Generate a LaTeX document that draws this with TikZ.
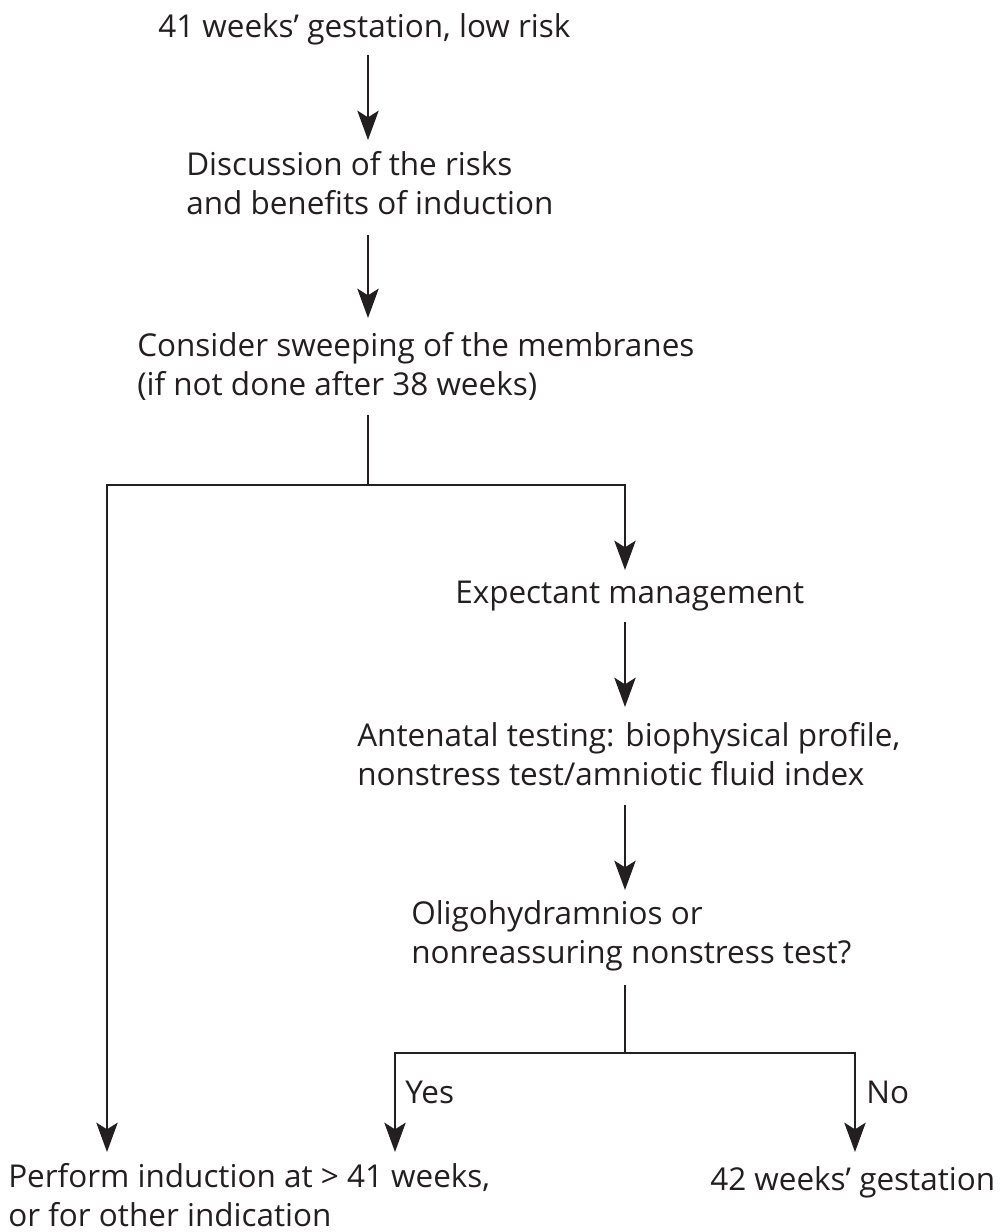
\documentclass[tikz,border=0pt]{standalone}
\usepackage{fontspec}
\setmainfont{Open Sans}
\usetikzlibrary{arrows.meta}
\definecolor{txt}{HTML}{231F20}
\begin{document}
\begin{tikzpicture}[x=0.75pt,y=-0.75pt,
  lbl/.style={font=\fontsize{23.6}{29}\selectfont, text=txt, inner sep=0pt, align=left, anchor=base west},
  ln/.style={line width=1.5pt, draw=txt},
  arr/.style={ln, -{Stealth[length=22pt,width=16pt,inset=5pt]}}]
\useasboundingbox[fill=white] (0,0) rectangle (1006,1232);
% text nodes (base west = baseline of the last line)
\node[lbl] (top) at (158,37) {41 weeks’ gestation, low risk};
\node[lbl] (disc) at (186,214) {Discussion of the risks\\and benefits of induction};
\node[lbl] (cons) at (137,395) {Consider sweeping of the membranes\\(if not done after 38 weeks)};
\node[lbl] (exp) at (455,603) {Expectant management};
\node[lbl] (ante) at (357,785) {Antenatal testing: biophysical profile,\\nonstress test/amniotic fluid index};
\node[lbl] (oligo) at (411,963) {Oligohydramnios or\\nonreassuring nonstress test?};
\node[lbl] (perf) at (8,1226) {Perform induction at > 41 weeks,\\or for other indication};
\node[lbl] (g42) at (710,1190) {42 weeks’ gestation};
\node[lbl] (yes) at (405,1103) {Yes};
\node[lbl] (no) at (866,1103) {No};
% connector points
\coordinate (a1s) at (368,55);  \coordinate (a1e) at (368,140);
\coordinate (a2s) at (368,235); \coordinate (a2e) at (368,318);
\coordinate (b1s) at (368,415); \coordinate (b1m) at (368,485);
\coordinate (tipL) at (107,1152); \coordinate (tipE) at (625,570);
\coordinate (a3s) at (625,622); \coordinate (a3e) at (625,707);
\coordinate (a4s) at (625,805); \coordinate (a4e) at (625,890);
\coordinate (b2s) at (625,985); \coordinate (b2m) at (625,1053);
\coordinate (tipY) at (395,1152); \coordinate (tipN) at (855,1152);
% connectors
\draw[arr] (a1s) -- (a1e);
\draw[arr] (a2s) -- (a2e);
\draw[ln] (b1s) -- (b1m);
\draw[arr] (b1m) -| (tipL);
\draw[arr] (b1m) -| (tipE);
\draw[arr] (a3s) -- (a3e);
\draw[arr] (a4s) -- (a4e);
\draw[ln] (b2s) -- (b2m);
\draw[arr] (b2m) -| (tipY);
\draw[arr] (b2m) -| (tipN);
\end{tikzpicture}
\end{document}
